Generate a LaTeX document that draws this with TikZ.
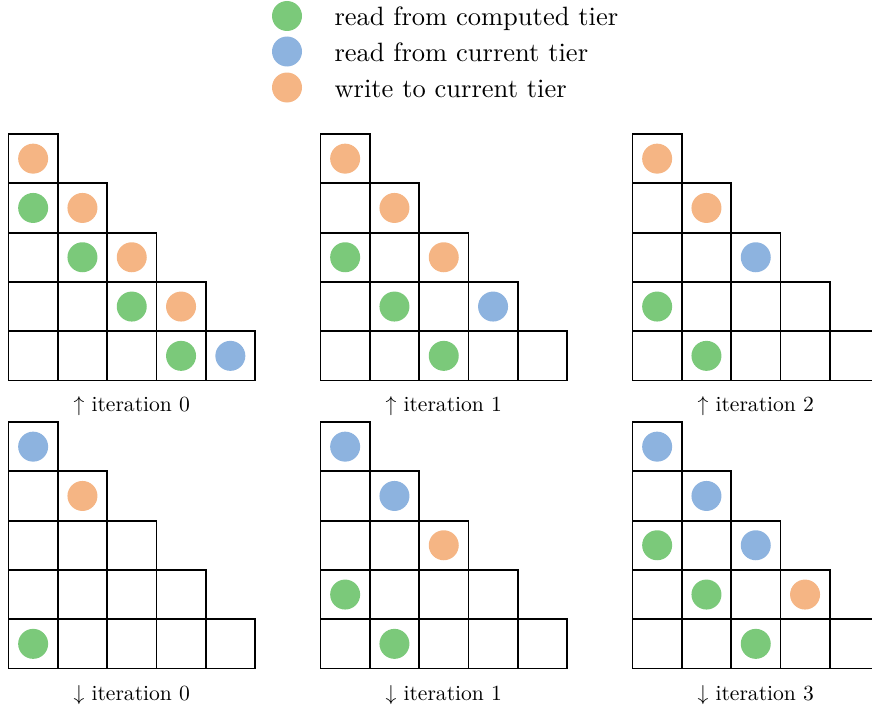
\documentclass[tikz,border=0pt]{standalone}
\usepackage{xcolor}
\usepackage{tikz}
\definecolor{dotgreen}{HTML}{7BC97A}
\definecolor{dotblue}{HTML}{8DB3DF}
\definecolor{dotorange}{HTML}{F5B584}

\begin{document}
\begin{tikzpicture}[x=1pt, y=-1pt,
cell/.style={rectangle,draw,line width=1.8pt,inner sep=0pt,minimum size=49.3pt},
dot/.style={circle,inner sep=0pt,minimum size=30pt},
fromcomputed/.style={dot,fill=dotgreen},
fromcurrent/.style={dot,fill=dotblue},
tocurrent/.style={dot,fill=dotorange},
legend/.style={anchor=base west,inner sep=0pt,scale=2.65},
caption/.style={anchor=base,inner sep=0pt,scale=2.16}
]
\clip (0,0) rectangle (872,709);

%create grids
\foreach \g/\gx/\gy in {a/8.5/134, b/320.5/134, c/632.5/134, d/8.5/422, e/320.5/422, f/632.5/422}{
  \foreach \r in {0,...,4}{
    \foreach \c in {0,...,\r}{
      \node[cell] (\g-\r-\c) at ({\gx+(\c+0.5)*49.3},{\gy+(\r+0.5)*49.3}) {};
    }
  }
}

%legend
\node[fromcomputed] (lg1) at (287,16) {};
\node[fromcurrent] (lg2) at (287,51.5) {};
\node[tocurrent] (lg3) at (287,87.5) {};
\node[legend] (lt1) at (334,25.5) {read from computed tier};
\node[legend] (lt2) at (334,61.5) {read from current tier};
\node[legend] (lt3) at (334,97) {write to current tier};

%up iteration 0
\node[tocurrent] at (a-0-0) {};
\node[fromcomputed] at (a-1-0) {};
\node[tocurrent] at (a-1-1) {};
\node[fromcomputed] at (a-2-1) {};
\node[tocurrent] at (a-2-2) {};
\node[fromcomputed] at (a-3-2) {};
\node[tocurrent] at (a-3-3) {};
\node[fromcomputed] at (a-4-3) {};
\node[fromcurrent] at (a-4-4) {};

%up iteration 1
\node[tocurrent] at (b-0-0) {};
\node[tocurrent] at (b-1-1) {};
\node[fromcomputed] at (b-2-0) {};
\node[tocurrent] at (b-2-2) {};
\node[fromcomputed] at (b-3-1) {};
\node[fromcurrent] at (b-3-3) {};
\node[fromcomputed] at (b-4-2) {};

%up iteration 2
\node[tocurrent] at (c-0-0) {};
\node[tocurrent] at (c-1-1) {};
\node[fromcurrent] at (c-2-2) {};
\node[fromcomputed] at (c-3-0) {};
\node[fromcomputed] at (c-4-1) {};

%down iteration 0
\node[fromcurrent] at (d-0-0) {};
\node[tocurrent] at (d-1-1) {};
\node[fromcomputed] at (d-4-0) {};

%down iteration 1
\node[fromcurrent] at (e-0-0) {};
\node[fromcurrent] at (e-1-1) {};
\node[tocurrent] at (e-2-2) {};
\node[fromcomputed] at (e-3-0) {};
\node[fromcomputed] at (e-4-1) {};

%down iteration 3
\node[fromcurrent] at (f-0-0) {};
\node[fromcurrent] at (f-1-1) {};
\node[fromcomputed] at (f-2-0) {};
\node[fromcurrent] at (f-2-2) {};
\node[fromcomputed] at (f-3-1) {};
\node[tocurrent] at (f-3-3) {};
\node[fromcomputed] at (f-4-2) {};

%captions
\node[caption] (capa) at (131.75,411.7) {$\uparrow$ iteration 0};
\node[caption] (capb) at (443.75,411.7) {$\uparrow$ iteration 1};
\node[caption] (capc) at (755.75,411.7) {$\uparrow$ iteration 2};
\node[caption] (capd) at (131.75,700) {$\downarrow$ iteration 0};
\node[caption] (cape) at (443.75,700) {$\downarrow$ iteration 1};
\node[caption] (capf) at (755.75,700) {$\downarrow$ iteration 3};

\end{tikzpicture}
\end{document}
